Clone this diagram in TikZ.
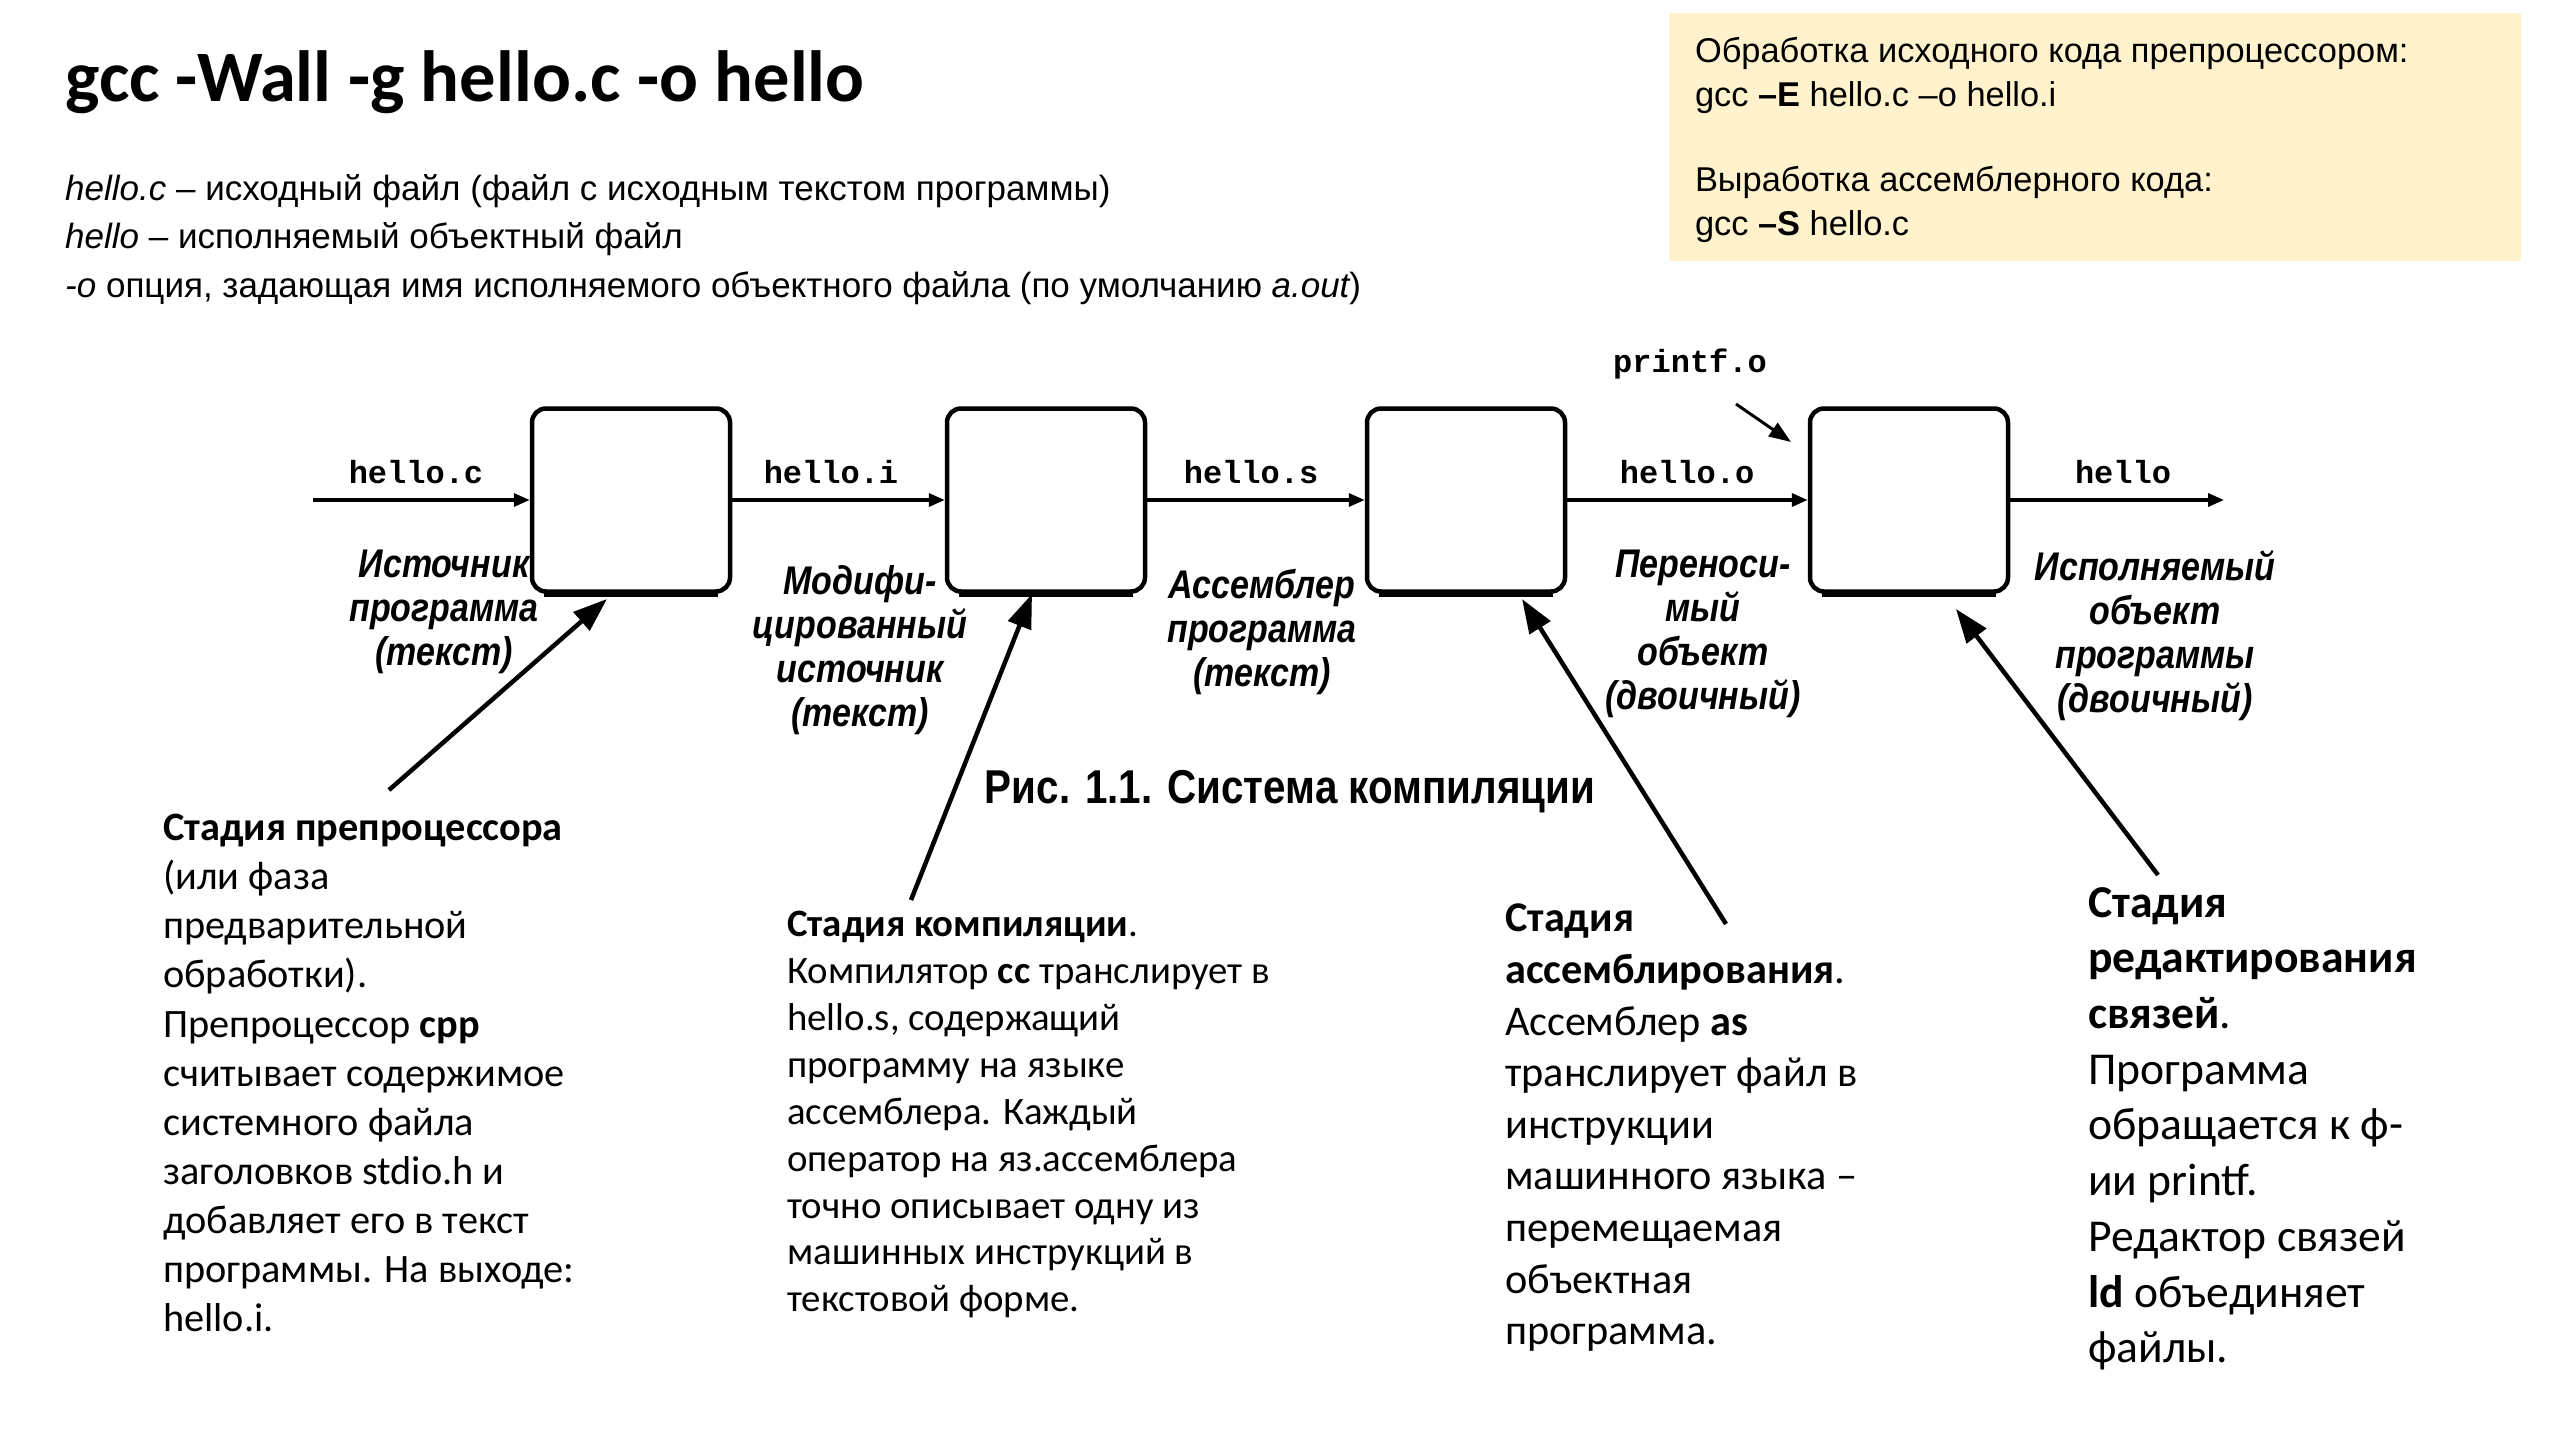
\documentclass[tikz,border=0pt]{standalone}
\usepackage{fontspec}
\setmainfont{Carlito}
\newfontfamily\arialf{Liberation Sans}
\newfontfamily\monof{Liberation Mono}
\newfontfamily\figf[FakeStretch=0.85]{Liberation Sans}
\usetikzlibrary{arrows.meta,calc}
\definecolor{boxyellow}{HTML}{FFF2CC}

\begin{document}
\begin{tikzpicture}[x=1pt,y=-1pt,
  stage/.style={draw=black, line width=4.5pt, rounded corners=14pt,
    minimum width=198pt, minimum height=183pt, inner sep=0pt},
  flow/.style={line width=3.5pt, -{Triangle[length=16pt,width=13pt]}},
  pointer/.style={line width=4.5pt, -{Triangle[length=34pt,width=24pt]}},
  smallpointer/.style={line width=3pt, -{Triangle[length=22pt,width=16pt]}},
  fname/.style={font=\monof\bfseries\fontsize{32}{36}\selectfont, inner sep=0pt},
  flabel/.style={font=\figf\bfseries\itshape\fontsize{40}{44}\selectfont,
    align=center, inner sep=0pt, anchor=north},
  note/.style={align=left, anchor=north west, inner sep=0pt, text=black},
  infobox/.style={fill=boxyellow, minimum width=852pt, minimum height=248pt, inner sep=0pt},
  infotext/.style={align=left, anchor=north west, inner sep=0pt,
    font=\arialf\fontsize{34.4}{44}\selectfont},
  line/.style={anchor=base west, inner sep=0pt, font=\arialf\fontsize{35}{48}\selectfont}
]
\useasboundingbox (0,0) rectangle (2560,1440);
\fill[white] (0,0) rectangle (2560,1440);

% heading and command-line notes
\node[anchor=base west, inner sep=0pt, font=\bfseries\fontsize{72.5}{86}\selectfont]
  (title) at (65,101) {gcc -Wall -g hello.c -o hello};
\node[line] (l1) at (65,200) {\itshape hello.c\upshape{} – исходный файл (файл с исходным текстом программы)};
\node[line] (l2) at (65,248) {\itshape hello\upshape{} – исполняемый объектный файл};
\node[line] (l3) at (65,297) {\itshape -o\upshape{} опция, задающая имя исполняемого объектного файла (по умолчанию \itshape a.out\upshape)};

% gcc stage options box
\node[infobox] (info) at (2095,137) {};
\node[infotext] (infot) at ([xshift=26pt,yshift=-24.5pt]info.north west) {%
Обработка исходного кода препроцессором:\\
gcc \textbf{–E} hello.c –o hello.i\\[41pt]
Выработка ассемблерного кода:\\
gcc \textbf{–S} hello.c};

% compilation stages
\node[stage] (B1) at (631,500) {};
\node[stage] (B2) at (1046,500) {};
\node[stage] (B3) at (1466,500) {};
\node[stage] (B4) at (1909,500) {};
\foreach \b in {B1,B2,B3,B4}
  \draw[line width=7pt] ([xshift=14pt]\b.south west) -- ([xshift=-14pt]\b.south east);

\coordinate (src) at (313,500);
\coordinate (dst) at (2224,500);
\draw[flow] (src) -- (B1.west);
\draw[flow] (B1.east) -- (B2.west);
\draw[flow] (B2.east) -- (B3.west);
\draw[flow] (B3.east) -- (B4.west);
\draw[flow] (B4.east) -- (dst);

\node[fname] (fc) at (416,472) {hello.c};
\node[fname] (fi) at (831,472) {hello.i};
\node[fname] (fs) at (1251,472) {hello.s};
\node[fname] (fo) at (1687,472) {hello.o};
\node[fname] (fh) at (2123,472) {hello};
\node[fname] (fp) at (1690,364) {printf.o};
\coordinate (pftail) at (1736,404);
\coordinate (pfhead) at (1791,442);
\draw[smallpointer] (pftail) -- (pfhead);

\node[flabel] (d1) at (444,550) {Источник\\программа\\(текст)};
\node[flabel] (d2) at (860,565) {Модифи-\\цированный\\источник\\(текст)};
\node[flabel] (d3) at (1262,569) {Ассемблер\\программа\\(текст)};
\node[flabel] (d4) at (1703,550) {Переноси-\\мый\\объект\\(двоичный)};
\node[flabel] (d5) at (2155,550) {Исполняемый\\объект\\программы\\(двоичный)};

\node[inner sep=0pt, font=\figf\bfseries\fontsize{47.5}{52}\selectfont] (cap) at (1290,792)
  {Рис. 1.1. Система компиляции};

% stage descriptions
\node[note, font=\fontsize{40.3}{49.1}\selectfont] (n1) at (163,814) {%
\textbf{Стадия препроцессора}\\
(или фаза\\
предварительной\\
обработки).\\
Препроцессор \textbf{cpp}\\
считывает содержимое\\
системного файла\\
заголовков stdio.h и\\
добавляет его в текст\\
программы. На выходе:\\
hello.i.};

\node[note, font=\fontsize{38.8}{46.9}\selectfont] (n2) at (787,911) {%
\textbf{Стадия компиляции}.\\
Компилятор \textbf{cc} транслирует в\\
hello.s, содержащий\\
программу на языке\\
ассемблера. Каждый\\
оператор на яз.ассемблера\\
точно описывает одну из\\
машинных инструкций в\\
текстовой форме.};

\node[note, font=\fontsize{42.3}{51.6}\selectfont] (n3) at (1505,904) {%
\textbf{Стадия}\\
\textbf{ассемблирования}.\\
Ассемблер \textbf{as}\\
транслирует файл в\\
инструкции\\
машинного языка –\\
перемещаемая\\
объектная\\
программа.};

\node[note, font=\fontsize{45.6}{55.7}\selectfont] (n4) at (2088,887) {%
\textbf{Стадия}\\
\textbf{редактирования}\\
\textbf{связей}.\\
Программа\\
обращается к ф-\\
ии printf.\\
Редактор связей\\
\textbf{ld} объединяет\\
файлы.};

% pointers from the descriptions to the stages
\coordinate (t1) at (389,790);
\coordinate (t2) at (911,900);
\coordinate (t3) at (1726,924);
\coordinate (t4) at (2158,875);
\coordinate (h1) at (607,599);
\coordinate (h2) at (1032,594);
\coordinate (h3) at (1522,599);
\coordinate (h4) at (1956,609);
\draw[pointer] (t1) -- (h1);
\draw[pointer] (t2) -- (h2);
\draw[pointer] (t3) -- (h3);
\draw[pointer] (t4) -- (h4);
\end{tikzpicture}
\end{document}
